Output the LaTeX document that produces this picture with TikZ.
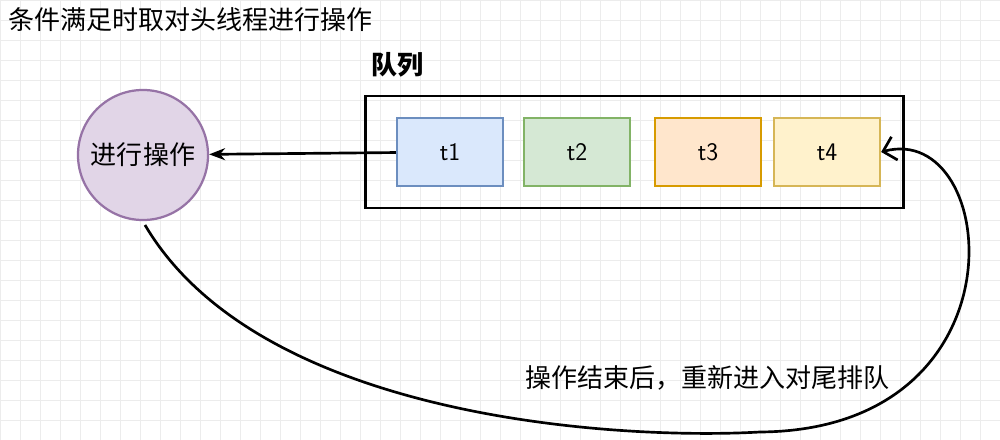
\documentclass[tikz,border=0pt]{standalone}
\usepackage{fontspec}
\newfontfamily\cjk{Noto Sans CJK SC}
\usetikzlibrary{arrows.meta}
\definecolor{bluefill}{HTML}{DAE8FC}\definecolor{bluedraw}{HTML}{6C8EBF}
\definecolor{greenfill}{HTML}{D5E8D4}\definecolor{greendraw}{HTML}{82B366}
\definecolor{orangefill}{HTML}{FFE6CC}\definecolor{orangedraw}{HTML}{D79B00}
\definecolor{yellowfill}{HTML}{FFF2CC}\definecolor{yellowdraw}{HTML}{D6B656}
\definecolor{purplefill}{HTML}{E1D5E7}\definecolor{purpledraw}{HTML}{9673A6}
\begin{document}
\begin{tikzpicture}[x=0.025cm, y=-0.025cm, font=\cjk, line width=1.9pt,
  task/.style = {draw, line width=1.6pt, minimum width=2.65cm, minimum height=1.7cm, font=\sffamily\fontsize{18}{21}\selectfont},
  label/.style = {font=\cjk\fontsize{18.5}{22}\selectfont, inner sep=0pt}]
\useasboundingbox (0,0) rectangle (1000,440);
\draw[gray!15, line width=0.5pt] (0,0) grid[step=0.5cm] (1000,440);
\node[label, anchor=west] (title) at (7,20) {条件满足时取对头线程进行操作};
\node[label, anchor=west, font=\cjk\fontsize{18.5}{22}\selectfont\bfseries] (qname) at (370,65) {队列};
\node[draw, minimum width=13.45cm, minimum height=2.8cm] (queue) at (634.5,152) {};
\node[task, fill=bluefill, draw=bluedraw] (t1) at (450,152) {t1};
\node[task, fill=greenfill, draw=greendraw] (t2) at (577,152) {t2};
\node[task, fill=orangefill, draw=orangedraw] (t3) at (708,152) {t3};
\node[task, fill=yellowfill, draw=yellowdraw] (t4) at (827,152) {t4};
\node[circle, draw=purpledraw, fill=purplefill, line width=1.6pt, minimum size=3.25cm, font=\cjk\fontsize{18.5}{22}\selectfont] (op) at (143,155) {进行操作};
\draw[-{Stealth[length=4mm]}] (t1) -- (op);
\draw[-{Straight Barb[length=3mm]}] (145,225) .. controls (260,420) and (620,440) .. (760,432)
  .. controls (1030,430) and (1000,120) .. (t4.east);
\node[label, anchor=west] (back) at (524,378) {操作结束后，重新进入对尾排队};
\end{tikzpicture}
\end{document}
